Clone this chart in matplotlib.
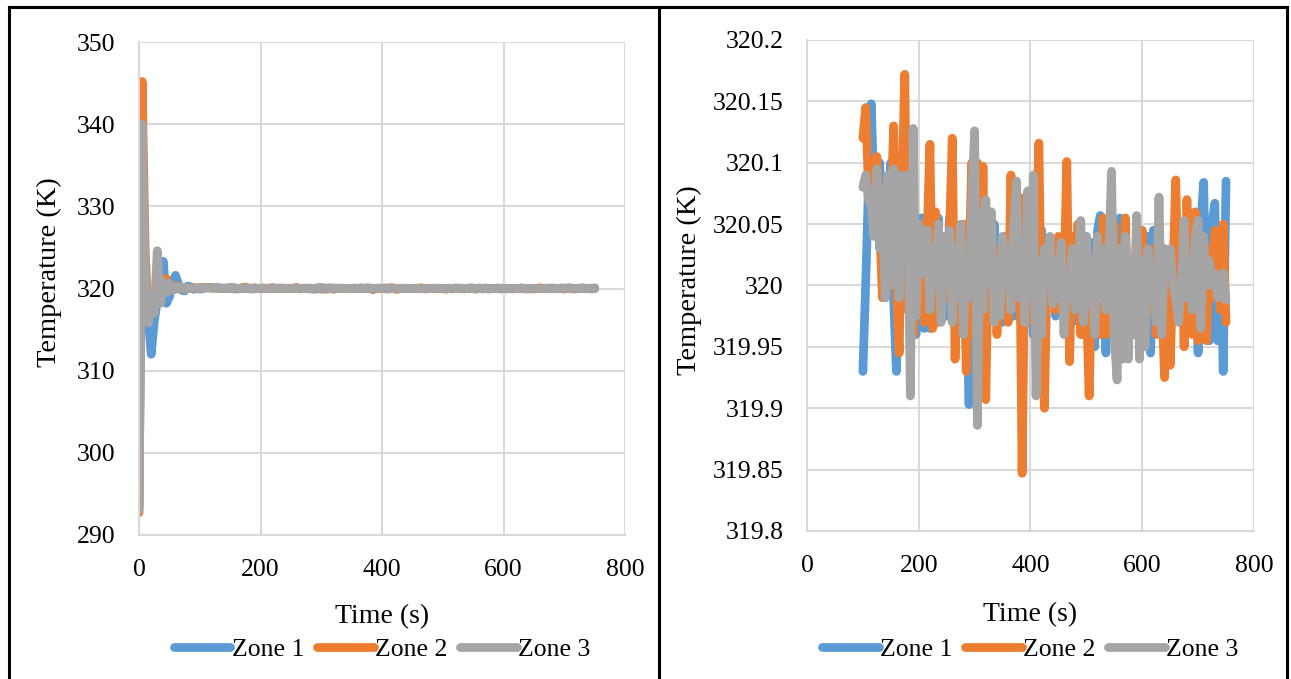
import numpy as np
import matplotlib
matplotlib.use("Agg")
import matplotlib.pyplot as plt
from matplotlib.lines import Line2D

plt.rcParams['font.family'] = ['Liberation Serif', 'DejaVu Serif']

# time axis (s)
t_early = [0, 5, 10, 15, 20, 25, 30, 35, 40, 45, 50, 55, 60, 65, 70, 75, 80, 85, 90, 95]
t_steady = np.arange(100, 751, 5)

# start-up transient, 0-95 s
zone1_early = [293.5, 336.0, 318.0, 316.5, 312.0, 316.0, 318.5, 321.0, 323.3, 318.2,
               319.0, 320.8, 321.6, 320.5, 319.8, 319.7, 320.3, 320.2, 319.9, 320.1]
zone2_early = [292.7, 345.2, 325.0, 316.0, 319.0, 317.5, 321.0, 320.5, 319.5, 321.2,
               319.8, 320.4, 319.9, 320.3, 320.1, 319.9, 320.1, 320.0, 320.1, 320.0]
zone3_early = [293.0, 340.0, 322.0, 315.8, 318.5, 317.0, 324.6, 318.2, 320.8, 319.5,
               320.6, 319.8, 320.3, 320.0, 320.2, 319.9, 320.1, 320.0, 320.05, 320.0]

# steady part, 100-750 s
zone1 = [319.930, 320.000, 320.080, 320.148, 320.070, 320.040, 320.100, 320.050, 319.990, 320.060,
         320.100, 319.990, 319.930, 320.020, 320.050, 320.010, 320.040, 319.980, 320.030, 319.960,
         320.000, 320.055, 319.965, 320.030, 319.965, 320.050, 320.000, 320.055, 319.980, 320.020,
         319.975, 320.055, 320.000, 320.030, 319.990, 320.040, 319.960, 320.010, 319.903, 320.000,
         319.930, 320.030, 319.980, 320.040, 319.960, 320.020, 319.990, 320.050, 319.985, 320.010,
         319.970, 320.035, 319.990, 320.020, 319.975, 320.040, 320.000, 319.960, 320.030, 319.990,
         320.010, 319.960, 320.040, 320.000, 320.045, 319.965, 320.020, 319.990, 320.035, 319.975,
         320.010, 319.985, 320.040, 319.990, 320.020, 319.970, 320.030, 319.985, 320.010, 319.960,
         320.040, 319.975, 320.035, 319.950, 320.045, 320.057, 320.000, 319.945, 320.030, 319.980,
         320.050, 319.960, 320.055, 319.990, 320.040, 319.955, 320.020, 319.980, 320.045, 319.960,
         320.030, 319.990, 320.040, 319.945, 320.045, 319.980, 320.040, 319.960, 320.020, 320.000,
         319.985, 320.030, 319.990, 320.020, 319.970, 320.010, 319.990, 320.025, 319.970, 320.040,
         319.945, 320.050, 320.084, 319.960, 319.955, 320.050, 320.067, 319.955, 320.030, 319.930,
         320.085]
zone2 = [320.120, 320.145, 320.080, 320.100, 320.060, 320.105, 320.050, 319.990, 320.040, 320.000,
         320.050, 320.130, 320.000, 319.945, 320.080, 320.172, 319.980, 320.050, 319.960, 320.030,
         320.000, 320.050, 319.970, 320.040, 320.115, 319.965, 320.060, 319.970, 320.040, 320.000,
         319.990, 320.040, 320.120, 319.940, 320.030, 319.975, 320.050, 319.930, 320.020, 320.100,
         319.960, 320.100, 319.910, 320.097, 319.907, 320.040, 319.980, 320.030, 319.960, 320.010,
         319.990, 320.040, 319.970, 320.090, 319.985, 320.040, 320.072, 319.847, 320.030, 319.980,
         320.010, 319.970, 320.040, 320.116, 319.960, 319.900, 320.020, 319.990, 320.030, 319.980,
         320.040, 319.990, 320.000, 320.101, 319.938, 320.040, 319.980, 320.050, 319.960, 320.030,
         319.990, 319.910, 320.010, 319.980, 320.040, 319.960, 320.055, 319.960, 320.020, 319.985,
         320.050, 319.970, 320.030, 319.990, 320.055, 319.960, 320.020, 319.975, 320.035, 319.990,
         320.045, 319.965, 320.010, 319.980, 320.030, 319.960, 320.050, 319.990, 319.925, 320.020,
         319.935, 320.010, 320.086, 319.980, 320.040, 319.950, 320.070, 320.000, 319.960, 320.060,
         319.955, 320.040, 319.975, 319.955, 320.030, 319.990, 320.045, 320.040, 319.980, 320.050,
         319.970]
zone3 = [320.080, 320.090, 320.070, 320.065, 320.040, 320.095, 320.030, 320.080, 319.990, 320.090,
         320.000, 320.095, 320.050, 319.990, 320.090, 320.040, 320.090, 319.910, 320.128, 319.975,
         320.050, 320.040, 320.010, 320.045, 319.980, 320.030, 320.000, 320.050, 319.970, 320.040,
         320.010, 320.045, 319.970, 320.030, 319.990, 320.050, 319.960, 320.020, 319.990, 320.070,
         320.126, 319.886, 320.060, 319.980, 320.070, 320.000, 320.060, 319.970, 320.020, 319.975,
         320.040, 320.000, 320.030, 319.980, 320.050, 320.085, 319.990, 320.030, 319.970, 320.077,
         319.990, 320.090, 319.910, 320.020, 319.960, 320.030, 320.000, 320.040, 319.985, 320.020,
         319.990, 320.035, 319.960, 320.010, 319.990, 320.030, 319.980, 320.010, 320.053, 319.970,
         320.040, 319.985, 320.020, 319.960, 320.040, 319.990, 320.030, 319.980, 320.020, 320.093,
         319.960, 319.923, 320.030, 319.940, 320.040, 319.940, 320.020, 319.960, 320.057, 319.940,
         320.020, 319.950, 320.030, 319.990, 320.010, 319.970, 320.072, 319.960, 320.030, 320.010,
         320.030, 320.000, 319.990, 319.970, 320.000, 320.053, 319.990, 320.010, 319.980, 320.040,
         320.053, 319.965, 320.040, 320.000, 320.020, 320.000, 320.010, 319.990, 320.005, 320.010,
         319.988]

labels = ["Zone 1", "Zone 2", "Zone 3"]
colors = ["#5B9BD5", "#ED7D31", "#A5A5A5"]

fig = plt.figure(figsize=(12.91, 6.79), dpi=100)
ax1 = fig.add_axes([0.1077, 0.2121, 0.3765, 0.7260])
ax2 = fig.add_axes([0.6251, 0.2180, 0.3462, 0.7231])

full = [zone1_early + zone1, zone2_early + zone2, zone3_early + zone3]
steady = [zone1, zone2, zone3]
t_full = np.concatenate([t_early, t_steady])

for ys, lab, c in zip(full, labels, colors):
    ax1.plot(t_full, ys, color=c, lw=6.3, label=lab,
             solid_joinstyle='round', solid_capstyle='round')
for ys, lab, c in zip(steady, labels, colors):
    ax2.plot(t_steady, ys, color=c, lw=6.3, label=lab,
             solid_joinstyle='round', solid_capstyle='round')

def fmt(v, pos=None):
    return f"{v:.2f}".rstrip('0').rstrip('.')

ax1.set_xlim(0, 800)
ax1.set_ylim(290, 350)
ax1.set_xticks(range(0, 801, 200))
ax1.set_yticks(range(290, 351, 10))
ax2.set_xlim(0, 800)
ax2.set_ylim(319.8, 320.2)
ax2.set_xticks(range(0, 801, 200))
ax2.set_yticks(np.linspace(319.8, 320.2, 9))
ax2.yaxis.set_major_formatter(plt.FuncFormatter(fmt))

for ax, xlab_y, leg_y in [(ax1, -0.140, -0.233), (ax2, -0.145, -0.242)]:
    ax.grid(True, color="#D9D9D9", lw=1.5)
    ax.set_axisbelow(True)
    for side in ['top', 'right']:
        ax.spines[side].set_visible(False)
    for side in ['left', 'bottom']:
        ax.spines[side].set_color("#D9D9D9")
        ax.spines[side].set_linewidth(1.5)
    ax.tick_params(length=0, labelsize=18.5, pad=17)
    ax.set_xlabel("Time (s)", fontsize=20)
    ax.set_ylabel("Temperature (K)", fontsize=20.5)
    ax.xaxis.set_label_coords(0.5, xlab_y)
    ax.legend(loc='center', bbox_to_anchor=(0.5, leg_y), ncol=3, frameon=False,
              fontsize=18.5, handlelength=2.2, handletextpad=0.05, columnspacing=0.5)

ax1.yaxis.set_label_coords(-0.158, 0.533)
ax2.yaxis.set_label_coords(-0.235, 0.511)

# panel frame and divider
for xs, ys in [([0.007, 0.007], [0, 0.989]), ([0.007, 0.997], [0.989, 0.989]),
               ([0.997, 0.997], [0, 0.989]), ([0.5108, 0.5108], [0, 0.989])]:
    fig.add_artist(Line2D(xs, ys, transform=fig.transFigure, color='black', lw=2.2))

fig.savefig("out.png", dpi=100)
